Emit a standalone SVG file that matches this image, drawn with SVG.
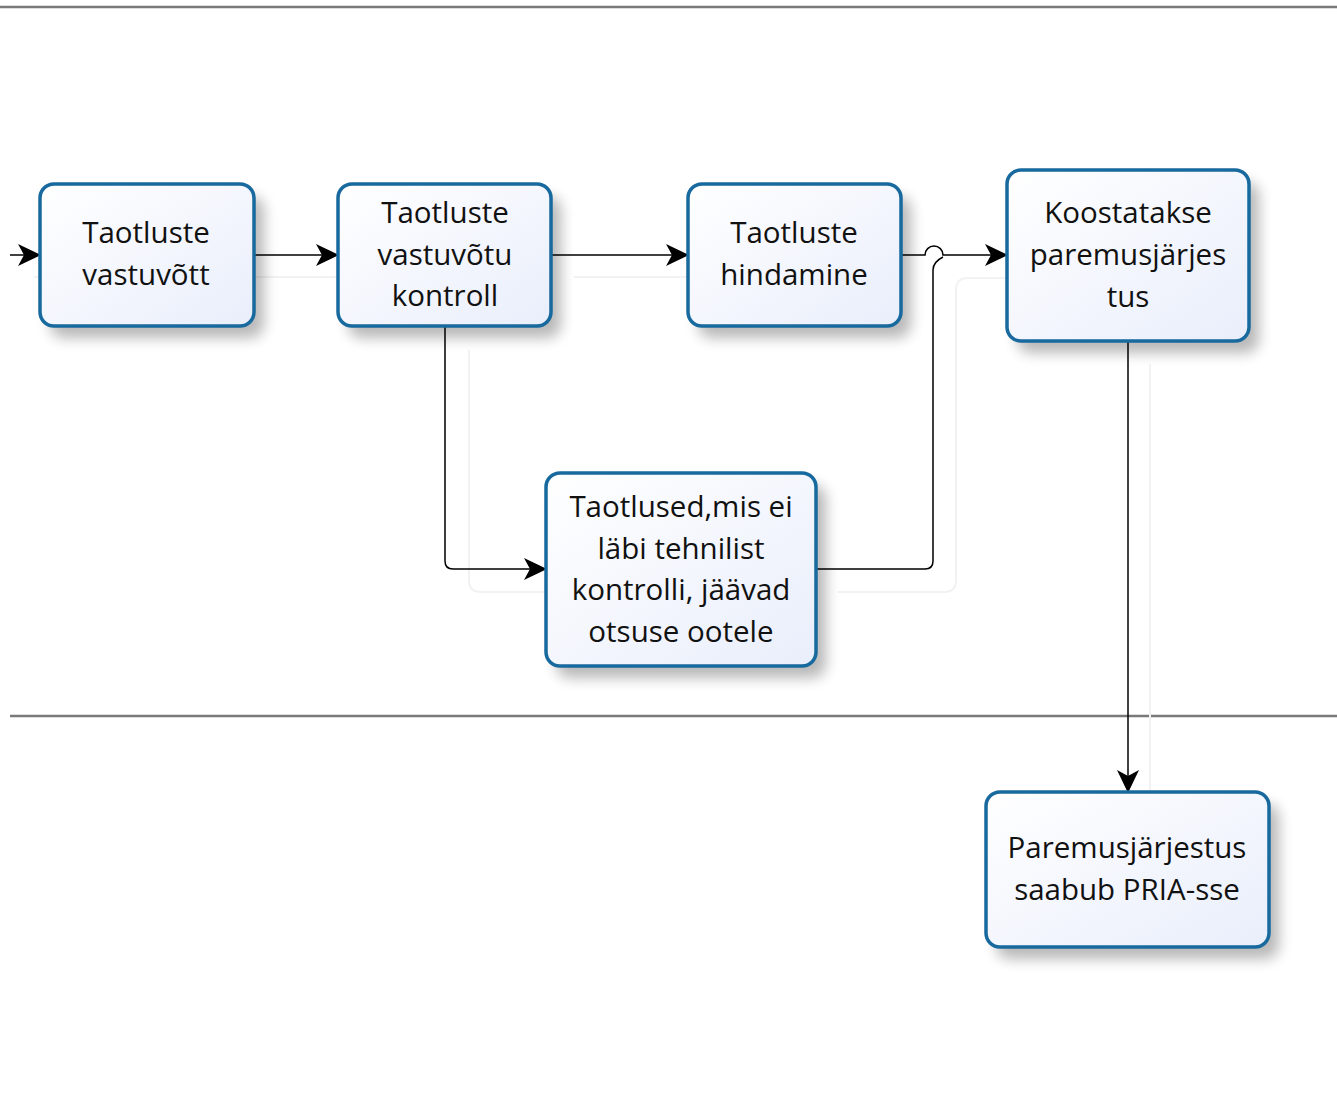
<svg xmlns="http://www.w3.org/2000/svg" width="1337" height="1099" viewBox="0 0 1337 1099">
<defs>
<linearGradient id="g" x1="0" y1="0" x2="1" y2="1">
<stop offset="0" stop-color="#ffffff"/>
<stop offset="1" stop-color="#e9eefb"/>
</linearGradient>
<filter id="sh" x="-20%" y="-20%" width="150%" height="150%">
<feGaussianBlur stdDeviation="7"/>
</filter>
<marker id="ar" viewBox="0 0 24 24" refX="22" refY="12" markerWidth="24" markerHeight="24" markerUnits="userSpaceOnUse" orient="auto">
<path d="M0,1 L23,12 L0,23 L6,12 Z" fill="#000"/>
</marker>
</defs>
<style>
.box{fill:url(#g);stroke:#17699e;stroke-width:3.5}
.shadow{fill:#000;opacity:0.28;filter:url(#sh)}
.t{font-family:"Open Sans","Noto Sans",sans-serif;font-size:29.5px;fill:#111;text-anchor:middle}
.c{fill:none;stroke:#000;stroke-width:1.5}
.ghost{fill:none;stroke:#f2f2f2;stroke-width:2}
.lane{stroke:#7a7a7a;stroke-width:2.5}
</style>
<rect width="1337" height="1099" fill="#fff"/>
<line class="lane" x1="0" y1="7" x2="1337" y2="7"/>
<line class="lane" x1="10" y1="716" x2="1337" y2="716"/>
<g id="ghosts">
<line class="ghost" x1="34" y1="277" x2="338" y2="277"/>
<line class="ghost" x1="574" y1="277" x2="688" y2="277"/>
<path class="ghost" d="M469,350 V580 Q469,592 481,592 H546"/>
<path class="ghost" d="M838,592 H944 Q956,592 956,580 V290 Q956,278 968,278 H1007"/>
<line class="ghost" x1="1150" y1="364" x2="1150" y2="792"/>
</g>
<g id="connectors">
<line class="c" x1="10" y1="255" x2="40" y2="255" marker-end="url(#ar)"/>
<line class="c" x1="254" y1="255" x2="338" y2="255" marker-end="url(#ar)"/>
<line class="c" x1="551" y1="255" x2="688" y2="255" marker-end="url(#ar)"/>
<path class="c" d="M901,255 H925 A9,9 0 0 1 943,255 H1007" marker-end="url(#ar)"/>
<path class="c" d="M445,326 V561 Q445,569 453,569 H546" marker-end="url(#ar)"/>
<path class="c" d="M816,569 H925 Q933,569 933,561 V270 Q933,262 943,257"/>
<line class="c" x1="1128" y1="341" x2="1128" y2="792" marker-end="url(#ar)"/>
</g>
<g id="n1">
<rect class="shadow" x="50" y="196" width="214" height="142" rx="14"/>
<rect class="box" x="40" y="184" width="214" height="142" rx="14"/>
<text class="t" x="146" y="243">Taotluste</text>
<text class="t" x="146" y="285">vastuvõtt</text>
</g>
<g id="n2">
<rect class="shadow" x="348" y="196" width="213" height="142" rx="14"/>
<rect class="box" x="338" y="184" width="213" height="142" rx="14"/>
<text class="t" x="445" y="223">Taotluste</text>
<text class="t" x="445" y="265">vastuvõtu</text>
<text class="t" x="445" y="306">kontroll</text>
</g>
<g id="n3">
<rect class="shadow" x="698" y="196" width="213" height="142" rx="14"/>
<rect class="box" x="688" y="184" width="213" height="142" rx="14"/>
<text class="t" x="794" y="243">Taotluste</text>
<text class="t" x="794" y="285">hindamine</text>
</g>
<g id="n4">
<rect class="shadow" x="1017" y="182" width="242" height="171" rx="14"/>
<rect class="box" x="1007" y="170" width="242" height="171" rx="14"/>
<text class="t" x="1128" y="223">Koostatakse</text>
<text class="t" x="1128" y="265">paremusjärjes</text>
<text class="t" x="1128" y="307">tus</text>
</g>
<g id="n5">
<rect class="shadow" x="556" y="485" width="270" height="193" rx="14"/>
<rect class="box" x="546" y="473" width="270" height="193" rx="14"/>
<text class="t" x="681" y="517">Taotlused,mis ei</text>
<text class="t" x="681" y="559">läbi tehnilist</text>
<text class="t" x="681" y="600">kontrolli, jäävad</text>
<text class="t" x="681" y="642">otsuse ootele</text>
</g>
<g id="n6">
<rect class="shadow" x="996" y="804" width="283" height="155" rx="14"/>
<rect class="box" x="986" y="792" width="283" height="155" rx="14"/>
<text class="t" x="1127" y="858">Paremusjärjestus</text>
<text class="t" x="1127" y="900">saabub PRIA-sse</text>
</g>
</svg>
